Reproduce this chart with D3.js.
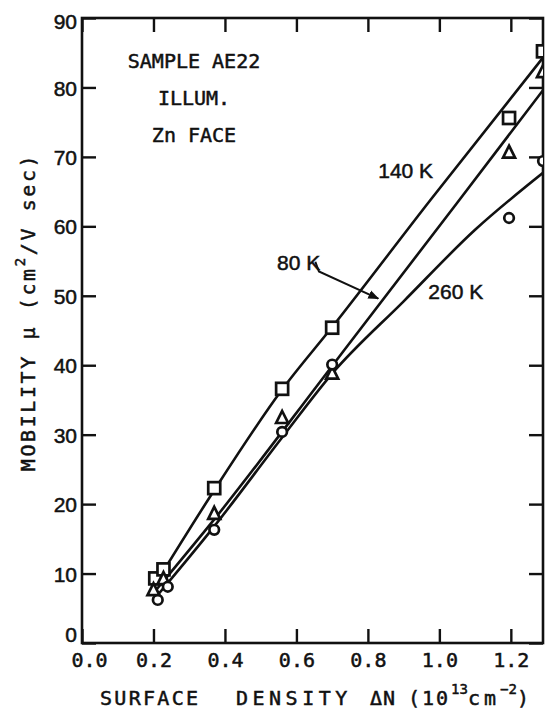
<!DOCTYPE html>
<html lang="en">
<head>
<meta charset="UTF-8">
<title>Mobility vs surface density</title>
<script src="https://d3js.org/d3.v7.min.js"></script>
<style>
  body { margin: 0; background: #fff; }
  svg { display: block; }
  .mono { font-family: "DejaVu Sans Mono", monospace; fill: #111; stroke: #111; stroke-width: 0.5px; }
  .sans { font-family: "Liberation Sans", Arial, sans-serif; fill: #111; stroke: #111; stroke-width: 0.5px; }
</style>
</head>
<body>
<svg id="chart"></svg>
<script>
// tick values and labels
const xTicks = [0, 0.2, 0.4, 0.6, 0.8, 1.0, 1.2];
const xTickLabels = ["0.0", "0.2", "0.4", "0.6", "0.8", "1.0", "1.2"];
const yTicks = [0, 10, 20, 30, 40, 50, 60, 70, 80, 90];

// measured points [density, mobility]
const squares140 = [[0.205, 9.3], [0.228, 10.6], [0.37, 22.3], [0.56, 36.6], [0.70, 45.4], [1.195, 75.6], [1.29, 85.2]];
const triangles80 = [[0.20, 7.6], [0.228, 9.2], [0.37, 18.6], [0.56, 32.4], [0.70, 38.8], [1.195, 70.6], [1.29, 82.2]];
const circles260 = [[0.212, 6.2], [0.24, 8.1], [0.37, 16.3], [0.56, 30.4], [0.70, 40.1], [1.195, 61.2], [1.29, 69.4]];

// drawn curves
const curve140 = [[0.215, 9.3], [0.37, 22.0], [0.56, 36.5], [0.70, 45.5], [0.975, 63.8], [1.29, 84.3]];
const curve80 = [[0.21, 7.8], [0.37, 17.8], [0.70, 39.9], [1.05, 63.4], [1.29, 79.6]];
const curve260 = [[0.21, 6.8], [0.37, 16.8], [0.56, 29.6], [0.70, 38.8], [0.90, 49.2], [1.10, 59.5], [1.29, 67.7]];

// curve labels [text, x, y]
const curveLabels = [["140 K", 0.829, 67.0], ["80 K", 0.546, 53.7], ["260 K", 0.969, 49.5]];
const arrow80 = [[0.653, 54.9], [0.663, 53.5], [0.829, 49.6]];

const width = 546, height = 710;
const margin = {top: 18, right: 3, bottom: 67, left: 82};

const svg = d3.select("#chart")
    .attr("width", width)
    .attr("height", height);

const x = d3.scaleLinear().domain([0, 1.29]).range([margin.left, width - margin.right]);
const y = d3.scaleLinear().domain([0, 90]).range([height - margin.bottom, margin.top]);

const defs = svg.append("defs");
defs.append("clipPath").attr("id", "plot")
  .append("rect")
    .attr("x", margin.left).attr("y", margin.top)
    .attr("width", x(1.29) - margin.left).attr("height", y(0) - margin.top);

defs.append("marker")
    .attr("id", "head")
    .attr("viewBox", "0 0 10 10")
    .attr("refX", 9).attr("refY", 5)
    .attr("markerWidth", 11).attr("markerHeight", 11)
    .attr("markerUnits", "userSpaceOnUse")
    .attr("orient", "auto")
  .append("path")
    .attr("d", "M0,1 L10,5 L0,9 z")
    .attr("fill", "#111");

// axes, ticks pointing in on all four sides
const tick = 14;
function styleAxis(g) {
  g.select(".domain").remove();
  g.selectAll(".tick line").attr("stroke", "#111").attr("stroke-width", 2.4);
}

svg.append("g")
    .attr("transform", `translate(0,${y(0)})`)
    .call(d3.axisBottom(x).tickValues(xTicks).tickSize(-tick).tickFormat((d, i) => xTickLabels[i]))
    .call(styleAxis)
    .call(g => g.selectAll("text")
        .attr("class", "mono")
        .attr("y", 24).attr("dy", 0)
        .attr("dx", d => d === 0 ? 7 : 0)
        .style("font-size", "20px"));

svg.append("g")
    .attr("transform", `translate(0,${y(90)})`)
    .call(d3.axisTop(x).tickValues(xTicks).tickSize(-tick).tickFormat(""))
    .call(styleAxis);

svg.append("g")
    .attr("transform", `translate(${x(0)},0)`)
    .call(d3.axisLeft(y).tickValues(yTicks).tickSize(-tick).tickFormat(d3.format("d")))
    .call(styleAxis)
    .call(g => g.selectAll("text")
        .attr("class", "sans")
        .attr("x", -5)
        .attr("dy", d => d === 0 ? "-0.05em" : (d === 90 ? "0.5em" : "0.36em"))
        .style("font-size", "21px"));

svg.append("g")
    .attr("transform", `translate(${x(1.29)},0)`)
    .call(d3.axisRight(y).tickValues(yTicks).tickSize(-tick).tickFormat(""))
    .call(styleAxis);

// frame
svg.append("rect")
    .attr("x", x(0)).attr("y", y(90))
    .attr("width", x(1.29) - x(0)).attr("height", y(0) - y(90))
    .attr("fill", "none").attr("stroke", "#111").attr("stroke-width", 2.6);

// curves
const plot = svg.append("g").attr("clip-path", "url(#plot)");
const line = d3.line().x(d => x(d[0])).y(d => y(d[1])).curve(d3.curveMonotoneX);

[curve140, curve80, curve260].forEach(c => {
  plot.append("path")
      .attr("d", line(c))
      .attr("fill", "none")
      .attr("stroke", "#111")
      .attr("stroke-width", 2.6);
});

// markers
const mk = {fill: "#fff", stroke: "#111", sw: 2.7};

plot.selectAll(".sq").data(squares140).join("rect")
    .attr("class", "sq")
    .attr("x", d => x(d[0]) - 6).attr("y", d => y(d[1]) - 6)
    .attr("width", 12).attr("height", 12)
    .attr("fill", mk.fill).attr("stroke", mk.stroke).attr("stroke-width", mk.sw);

plot.selectAll(".tri").data(triangles80).join("path")
    .attr("class", "tri")
    .attr("d", d => {
      const cx = x(d[0]), cy = y(d[1]);
      return `M${cx},${cy - 7} L${cx + 6},${cy + 5} L${cx - 6},${cy + 5} Z`;
    })
    .attr("fill", mk.fill).attr("stroke", mk.stroke).attr("stroke-width", mk.sw);

plot.selectAll(".circ").data(circles260).join("circle")
    .attr("class", "circ")
    .attr("cx", d => x(d[0])).attr("cy", d => y(d[1]))
    .attr("r", 4.8)
    .attr("fill", mk.fill).attr("stroke", mk.stroke).attr("stroke-width", mk.sw);

// curve labels and arrow
svg.selectAll(".clab").data(curveLabels).join("text")
    .attr("class", "clab sans")
    .attr("x", d => x(d[1]))
    .attr("y", d => y(d[2]))
    .style("font-size", "21px")
    .text(d => d[0]);

svg.append("path")
    .attr("d", d3.line().x(d => x(d[0])).y(d => y(d[1]))(arrow80))
    .attr("fill", "none")
    .attr("stroke", "#111")
    .attr("stroke-width", 2)
    .attr("marker-end", "url(#head)");

// sample note
const note = svg.append("text")
    .attr("class", "mono")
    .attr("text-anchor", "middle")
    .style("font-size", "20px");
["SAMPLE AE22", "ILLUM.", "Zn FACE"].forEach((t, i) => {
  note.append("tspan").attr("x", 194).attr("y", 68 + i * 37).text(t);
});

// axis titles
const xt = svg.append("text")
    .attr("class", "mono")
    .attr("y", 705)
    .style("font-size", "20px");
xt.append("tspan").attr("x", 100).style("letter-spacing", "2.3px").text("SURFACE");
xt.append("tspan").attr("x", 236).style("letter-spacing", "4.5px").text("DENSITY");
xt.append("tspan").attr("x", 370).style("letter-spacing", "1px").text("ΔN");
xt.append("tspan").attr("x", 408).style("letter-spacing", "2px").text("(10");
xt.append("tspan").attr("x", 451).attr("dy", -11).style("font-size", "14px").text("13");
xt.append("tspan").attr("x", 468).attr("dy", 11).style("letter-spacing", "4px").text("cm");
xt.append("tspan").attr("x", 500).attr("dy", -11).style("font-size", "14px").text("−2");
xt.append("tspan").attr("x", 517).attr("dy", 11).text(")");

const yt = svg.append("text")
    .attr("class", "mono")
    .attr("transform", "translate(35,312) rotate(-90)")
    .attr("text-anchor", "middle")
    .style("font-size", "20px")
    .style("letter-spacing", "2.6px");
yt.append("tspan").text("MOBILITY μ  (cm");
yt.append("tspan").attr("dy", -10).style("font-size", "14px").text("2");
yt.append("tspan").attr("dy", 10).text("/V sec)");
</script>
</body>
</html>
